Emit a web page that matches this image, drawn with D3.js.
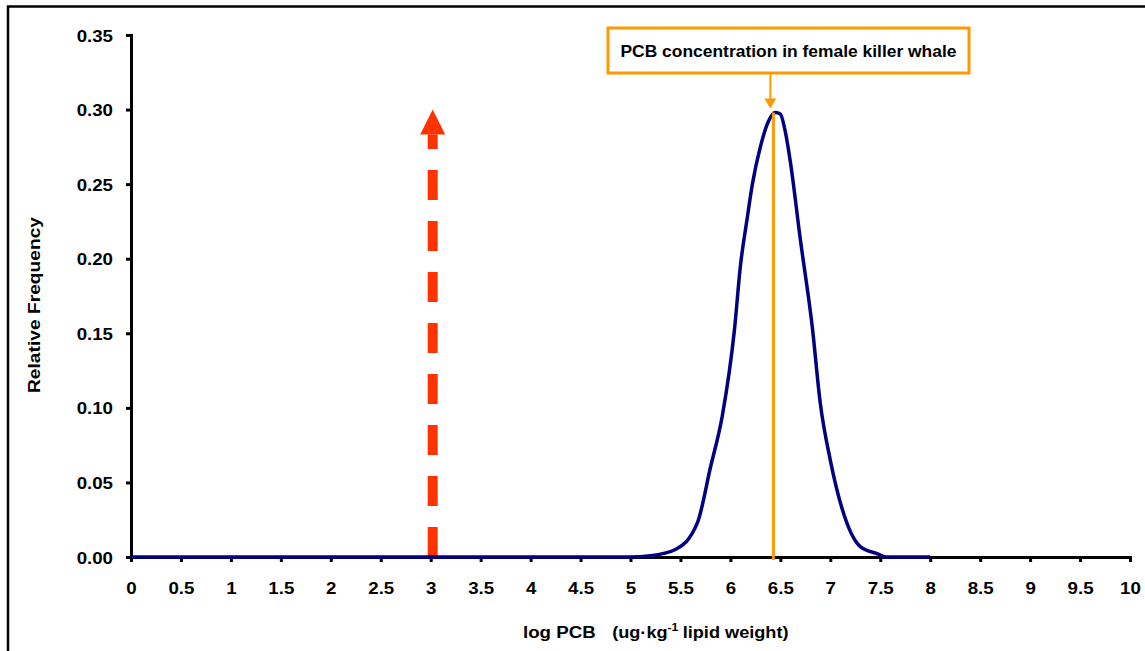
<!DOCTYPE html>
<html><head><meta charset="utf-8">
<script src="https://cdn.jsdelivr.net/npm/d3@7/dist/d3.min.js"></script>
<style>
html,body{margin:0;padding:0;background:#fff;}
text{font-family:"Liberation Sans",Arial,sans-serif;font-weight:bold;}
</style></head>
<body>
<svg id="chart" width="1145" height="651"></svg>
<script>
// Data
const curveX = [0, 1, 2, 3, 4, 5.0, 5.2, 5.45, 5.67, 5.8, 5.92, 6.04, 6.1, 6.17, 6.22, 6.3, 6.38, 6.45, 6.5, 6.55, 6.6, 6.7, 6.82, 6.9, 7.0, 7.12, 7.3, 7.48, 7.56, 8.0];
const curveY = [0, 0, 0, 0, 0, 0, 0.0008, 0.005, 0.023, 0.06, 0.095, 0.152, 0.195, 0.228, 0.25, 0.275, 0.292, 0.298, 0.297, 0.285, 0.265, 0.213, 0.154, 0.103, 0.065, 0.032, 0.007, 0.002, 0, 0];
const xTicks = [0,0.5,1,1.5,2,2.5,3,3.5,4,4.5,5,5.5,6,6.5,7,7.5,8,8.5,9,9.5,10];
const xTickLabels = ["0","0.5","1","1.5","2","2.5","3","3.5","4","4.5","5","5.5","6","6.5","7","7.5","8","8.5","9","9.5","10"];
const yTicks = [0,0.05,0.10,0.15,0.20,0.25,0.30,0.35];
const yTickLabels = ["0.00","0.05","0.10","0.15","0.20","0.25","0.30","0.35"];
const thresholdX = [3.02];          // red dashed arrow position
const thresholdTop = [0.30];
const whaleX = [6.43];              // female killer whale PCB
const whaleTop = [0.298];
const annotationText = ["PCB concentration in female killer whale"];

const svg = d3.select("#chart");
const m = {left:131, right:15, top:35, bottom:94};
const W = 1145, H = 651;
const x = d3.scaleLinear().domain([0,10]).range([m.left, W - m.right]);
const y = d3.scaleLinear().domain([0,0.35]).range([H - m.bottom, m.top]);
const SX = 1.1; // horizontal stretch of the reference lettering

function stretch(sel, ax, s){
  sel.attr("transform", `translate(${ax},0) scale(${s},1) translate(${-ax},0)`);
}

// outer frame
svg.append("path").attr("d", `M8,${H+5} L8,6.5 L${W+5},6.5`).attr("fill","none").attr("stroke","#000").attr("stroke-width",2.5);

// axes
const xAxis = d3.axisBottom(x).tickValues(xTicks).tickFormat((d,i)=>xTickLabels[i]).tickSize(5).tickSizeOuter(5).tickPadding(20);
const gx = svg.append("g").attr("transform",`translate(0,${y(0)})`).call(xAxis);
const yAxis = d3.axisLeft(y).tickValues(yTicks).tickFormat((d,i)=>yTickLabels[i]).tickSize(5).tickSizeOuter(5).tickPadding(13);
const gy = svg.append("g").attr("transform",`translate(${x(0)},0)`).call(yAxis);
[gx,gy].forEach(g=>{
  g.select(".domain").attr("stroke","#000").attr("stroke-width",3);
  g.selectAll(".tick line").attr("stroke","#000").attr("stroke-width",3);
  g.selectAll(".tick text").attr("fill","#000").style("font-size","17px").style("font-weight","bold")
   .style("font-family",'"Liberation Sans",Arial,sans-serif');
});
gy.selectAll(".tick text").attr("dy","0.36em").each(function(){
  const t = d3.select(this); stretch(t, +t.attr("x"), SX);
});
gx.selectAll(".tick text").each(function(){ stretch(d3.select(this), 0, SX); });

// red dashed arrow
const rx = x(thresholdX[0]);
const headBase = y(thresholdTop[0]) + 25;
svg.append("line").attr("x1",rx).attr("x2",rx).attr("y1",y(0)).attr("y2",headBase)
  .attr("stroke","#FF3300").attr("stroke-width",10).attr("stroke-dasharray","30,21");
svg.append("path").attr("d",`M${rx},${y(thresholdTop[0])} L${rx-12.5},${headBase} L${rx+12.5},${headBase} Z`).attr("fill","#FF3300");

// curve
const pts = curveX.map((d,i)=>[d,curveY[i]]);
svg.append("path").datum(pts).attr("fill","none").attr("stroke","#000080").attr("stroke-width",3.5)
  .attr("stroke-linejoin","round")
  .attr("d", d3.line().x(d=>x(d[0])).y(d=>y(d[1])).curve(d3.curveMonotoneX));

// orange vertical line
const wx = x(whaleX[0]);
svg.append("line").attr("x1",wx).attr("x2",wx).attr("y1",y(0)+3).attr("y2",y(whaleTop[0]))
  .attr("stroke","#FF9900").attr("stroke-width",3);

// annotation box
const boxX = 608, boxY = 28, boxW = 361, boxH = 45;
svg.append("rect").attr("x",boxX).attr("y",boxY).attr("width",boxW).attr("height",boxH)
  .attr("fill","#fff").attr("stroke","#FF9900").attr("stroke-width",3);
const at = svg.append("text").attr("x",boxX+boxW/2).attr("y",boxY+29).attr("text-anchor","middle")
  .style("font-size","16px").attr("fill","#000").text(annotationText[0]);
stretch(at, boxX+boxW/2, 1.09);
const ax = wx - 3;
const tipY = y(whaleTop[0]) - 4;
svg.append("line").attr("x1",ax).attr("x2",ax).attr("y1",boxY+boxH+1.5).attr("y2",tipY-8)
  .attr("stroke","#FF9900").attr("stroke-width",2);
svg.append("path").attr("d",`M${ax},${tipY} L${ax-6},${tipY-10} L${ax+6},${tipY-10} Z`).attr("fill","#FF9900");

// axis titles
svg.append("text").attr("transform",`translate(40,305) rotate(-90) scale(1.13,1)`).attr("text-anchor","middle")
  .style("font-size","17px").attr("fill","#000").text("Relative Frequency");
const xt = svg.append("text").attr("x",523).attr("y",638).attr("fill","#000");
xt.append("tspan").style("font-size","17px").text("log PCB");
xt.append("tspan").attr("dx",15).style("font-size","16.5px").text("(ug·kg");
xt.append("tspan").attr("dy",-7).style("font-size","11px").text("-1");
xt.append("tspan").attr("dy",7).attr("dx",4).style("font-size","16.5px").text("lipid weight)");
stretch(xt, 523, SX);
</script>
</body></html>
